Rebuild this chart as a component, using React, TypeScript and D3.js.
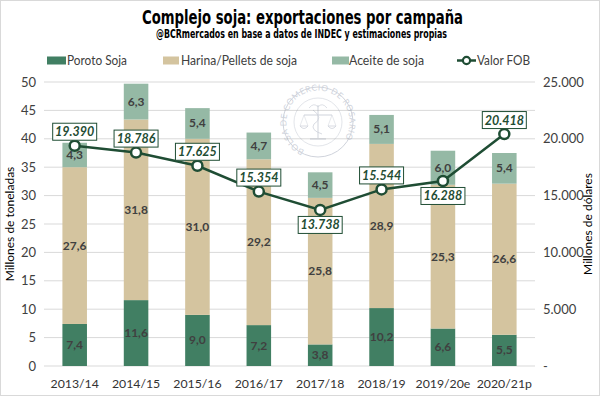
import React from "react";
import * as d3 from "d3";

const categories = ["2013/14", "2014/15", "2015/16", "2016/17", "2017/18", "2018/19", "2019/20e", "2020/21p"];
const poroto = [7.4, 11.6, 9.0, 7.2, 3.8, 10.2, 6.6, 5.5];
const harina = [27.6, 31.8, 31.0, 29.2, 25.8, 28.9, 25.3, 26.6];
const aceite = [4.3, 6.3, 5.4, 4.7, 4.5, 5.1, 6.0, 5.4];
const valorFOB = [19390, 18786, 17625, 15354, 13738, 15544, 16288, 20418];
const fobLabelBelow = [false, false, false, false, true, false, true, false];
const leftTicks = [0, 5, 10, 15, 20, 25, 30, 35, 40, 45, 50];
const rightTicks = [0, 5000, 10000, 15000, 20000, 25000];
const seriesNames = ["Poroto Soja", "Harina/Pellets de soja", "Aceite de soja", "Valor FOB"];

const C_POROTO = "#417F63";
const C_HARINA = "#D4C49F";
const C_ACEITE = "#95B9A5";
const C_LINE = "#1F4D34";
const FONT = "Lato, 'Open Sans', sans-serif";
const NARROW = "'Liberation Sans Narrow', 'DejaVu Sans Condensed', sans-serif";

export default function App() {
  const W = 600, H = 396;
  const x0 = 44, x1 = 535, yTop = 82, yBot = 366;
  const x = d3.scaleBand<string>().domain(categories).range([x0, x1]).paddingInner(0.6).paddingOuter(0.3);
  const yL = d3.scaleLinear().domain([0, 50]).range([yBot, yTop]);
  const yR = d3.scaleLinear().domain([0, 25000]).range([yBot, yTop]);
  const fmtR = (v: number) => (v === 0 ? "-" : d3.format(",")(v).replace(/,/g, "."));
  const fmtV = (v: number) => v.toFixed(1).replace(".", ",");
  const fmtF = (v: number) => d3.format(",")(v).replace(/,/g, ".");
  const cx = (c: string) => (x(c) as number) + x.bandwidth() / 2;

  const stacks = categories.map((c, i) => {
    const segs = [
      { v: poroto[i], color: C_POROTO, base: 0 },
      { v: harina[i], color: C_HARINA, base: poroto[i] },
      { v: aceite[i], color: C_ACEITE, base: poroto[i] + harina[i] },
    ];
    return { c, segs };
  });

  const line = d3
    .line<number>()
    .x((_, i) => cx(categories[i]))
    .y((d) => yR(d));

  const wmX = 318, wmY = 122, wmR = 35;

  const legend = [
    { sx: 47, sw: 19, tx: 67, tw: 60, color: C_POROTO, name: seriesNames[0] },
    { sx: 163, sw: 16, tx: 181, tw: 116, color: C_HARINA, name: seriesNames[1] },
    { sx: 332, sw: 17, tx: 349, tw: 75, color: C_ACEITE, name: seriesNames[2] },
  ];

  return (
    <svg width={W} height={H} style={{ position: "absolute", left: 0, top: 0 }} fontFamily={FONT}>
      <rect x={0.5} y={0.5} width={W - 1} height={H - 1} fill="#fff" stroke="#d9d9d9" />
      <text x={302.5} y={24} textAnchor="middle" fontFamily={NARROW} fontWeight="bold" fontSize={19} textLength={321} lengthAdjust="spacingAndGlyphs" fill="#000">
        Complejo soja: exportaciones por campaña
      </text>
      <text x={301.5} y={37.5} textAnchor="middle" fontFamily={NARROW} fontWeight="bold" fontSize={11.5} textLength={291} lengthAdjust="spacingAndGlyphs" fill="#000">
        @BCRmercados en base a datos de INDEC y estimaciones propias
      </text>

      {/* legend */}
      <g fontSize={12.5} fill="#404040">
        {legend.map((l) => (
          <g key={l.name}>
            <rect x={l.sx} y={56.5} width={l.sw} height={8} fill={l.color} />
            <text x={l.tx} y={64.5} textLength={l.tw} lengthAdjust="spacingAndGlyphs">{l.name}</text>
          </g>
        ))}
        <line x1={457} x2={476} y1={60.5} y2={60.5} stroke={C_LINE} strokeWidth={2.5} />
        <circle cx={466.5} cy={60.5} r={3.6} fill="#fff" stroke={C_LINE} strokeWidth={2.2} />
        <text x={477} y={64.5} textLength={53} lengthAdjust="spacingAndGlyphs">{seriesNames[3]}</text>
      </g>

      {/* gridlines */}
      {leftTicks.map((t) => (
        <line key={t} x1={x0} x2={x1} y1={yL(t)} y2={yL(t)} stroke="#d9d9d9" strokeWidth={1} />
      ))}

      {/* watermark */}
      <g opacity={0.4} stroke="#8a93a8" fill="none">
        <circle cx={wmX} cy={wmY} r={wmR} strokeWidth={1} />
        <circle cx={wmX} cy={wmY} r={wmR - 11} strokeWidth={0.6} />
        <defs>
          <path id="wmArc" d={`M ${wmX - 0.1} ${wmY + wmR - 3.5} A ${wmR - 3.5} ${wmR - 3.5} 0 1 1 ${wmX + 0.1} ${wmY + wmR - 3.5}`} />
        </defs>
        <text fontSize={8.5} fill="#8a93a8" stroke="none" letterSpacing={0.4}>
          <textPath href="#wmArc" startOffset="7%">BOLSA DE COMERCIO DE ROSARIO</textPath>
        </text>
        <line x1={wmX} x2={wmX} y1={wmY - 17} y2={wmY + 16} strokeWidth={1} />
        <line x1={wmX - 14} x2={wmX + 14} y1={wmY - 7} y2={wmY - 7} strokeWidth={1} />
        <path d={`M ${wmX - 14} ${wmY - 7} L ${wmX - 18} ${wmY + 4} M ${wmX - 14} ${wmY - 7} L ${wmX - 10} ${wmY + 4}`} strokeWidth={0.5} />
        <path d={`M ${wmX + 14} ${wmY - 7} L ${wmX + 18} ${wmY + 4} M ${wmX + 14} ${wmY - 7} L ${wmX + 10} ${wmY + 4}`} strokeWidth={0.5} />
        <path d={`M ${wmX - 18} ${wmY + 4} Q ${wmX - 14} ${wmY + 9} ${wmX - 10} ${wmY + 4} Z`} strokeWidth={0.8} />
        <path d={`M ${wmX + 10} ${wmY + 4} Q ${wmX + 14} ${wmY + 9} ${wmX + 18} ${wmY + 4} Z`} strokeWidth={0.8} />
        <path d={`M ${wmX - 5} ${wmY - 12} Q ${wmX + 6} ${wmY - 4} ${wmX - 4} ${wmY + 2} Q ${wmX - 8} ${wmY + 8} ${wmX + 4} ${wmY + 12}`} strokeWidth={0.8} />
        <path d={`M ${wmX - 9} ${wmY - 14} Q ${wmX - 4} ${wmY - 20} ${wmX} ${wmY - 15} Q ${wmX + 4} ${wmY - 20} ${wmX + 9} ${wmY - 14}`} strokeWidth={0.7} />
        <line x1={wmX - 8} x2={wmX + 8} y1={wmY + 17} y2={wmY + 17} strokeWidth={1} />
      </g>

      {/* bars */}
      {stacks.map((s) => (
        <g key={s.c}>
          {s.segs.map((seg, j) => (
            <rect key={j} x={x(s.c)} width={x.bandwidth()} y={yL(seg.base + seg.v)} height={yL(seg.base) - yL(seg.base + seg.v)} fill={seg.color} />
          ))}
          {s.segs.map((seg, j) => (
            <text key={"t" + j} x={cx(s.c)} y={(yL(seg.base) + yL(seg.base + seg.v)) / 2 + 4} textAnchor="middle" fontSize={12} fontWeight="bold" fill="#404040">
              {fmtV(seg.v)}
            </text>
          ))}
        </g>
      ))}

      {/* left axis labels */}
      <g fontSize={13} fill="#404040" textAnchor="end">
        {leftTicks.map((t) => (
          <text key={t} x={36} y={yL(t) + 4.5}>{t}</text>
        ))}
      </g>
      {/* right axis labels */}
      <g fontSize={13} fill="#404040" textAnchor="start">
        {rightTicks.map((t) => (
          <text key={t} x={543} y={yR(t) + 4.5}>{fmtR(t)}</text>
        ))}
      </g>
      {/* x labels */}
      <g fontSize={12.3} fill="#333" textAnchor="middle">
        {categories.map((c) => (
          <text key={c} x={cx(c)} y={388}>{c}</text>
        ))}
      </g>
      {/* axis titles */}
      <text transform={`translate(14,${(yTop + yBot) / 2}) rotate(-90)`} textAnchor="middle" fontSize={12} fill="#000">
        Millones de toneladas
      </text>
      <text transform={`translate(592,${(yTop + yBot) / 2}) rotate(-90)`} textAnchor="middle" fontSize={12} fill="#000">
        Millones de dólares
      </text>

      {/* line */}
      <path d={line(valorFOB) || ""} fill="none" stroke={C_LINE} strokeWidth={2.5} />
      {valorFOB.map((v, i) => (
        <circle key={i} cx={cx(categories[i])} cy={yR(v)} r={5} fill="#fff" stroke={C_LINE} strokeWidth={2.5} />
      ))}
      {valorFOB.map((v, i) => {
        const px = cx(categories[i]);
        const cy = yR(v) + (fobLabelBelow[i] ? 15 : -14);
        return (
          <g key={"l" + i}>
            <rect x={px - 22} y={cy - 8.5} width={44} height={17} fill="#fff" stroke={C_LINE} strokeWidth={1} />
            <text x={px} y={cy + 4.5} textAnchor="middle" fontSize={12.5} fontWeight="bold" fontStyle="italic" fill={C_LINE}>
              {fmtF(v)}
            </text>
          </g>
        );
      })}
    </svg>
  );
}
